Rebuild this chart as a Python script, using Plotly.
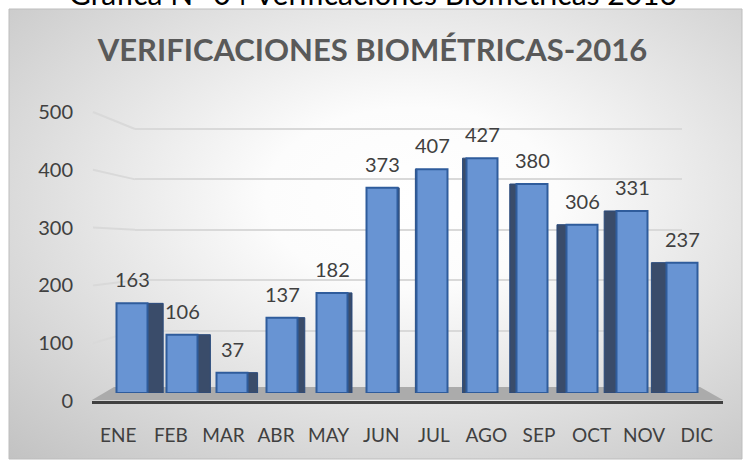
import base64
import plotly.graph_objects as go

# datos
meses = ["ENE", "FEB", "MAR", "ABR", "MAY", "JUN", "JUL", "AGO", "SEP", "OCT", "NOV", "DIC"]
verificaciones = [163, 106, 37, 137, 182, 373, 407, 427, 380, 306, 331, 237]
y_ticks = [0, 100, 200, 300, 400, 500]
titulo = "VERIFICACIONES BIOMÉTRICAS-2016"
encabezado = "Gráfica N° 04 Verificaciones Biométricas 2016"

W, H = 745, 461
FONT = "Lato, Open Sans, sans-serif"


def px(x):
    return x / W


def py(y):
    return (H - y) / H


# fake 3D: dark side face, to the right on the left half and to the left on the right half
side_w = [abs(i - 5.6) * 2.8 / 50 for i in range(len(meses))]
side_off = [0.31 if i < 5.6 else -0.31 - w for i, w in enumerate(side_w)]

fig = go.Figure()

# helper traces so the wall / label axes get drawn
fig.add_trace(go.Scatter(x=meses, y=verificaciones, mode="markers", marker=dict(opacity=0),
                         hoverinfo="skip", showlegend=False, xaxis="x", yaxis="y"))
fig.add_trace(go.Bar(x=meses, y=verificaciones, width=side_w, offset=side_off,
                     marker=dict(color="#3A4C6A", line=dict(color="#2A4A7C", width=1)),
                     hoverinfo="skip", showlegend=False, xaxis="x2", yaxis="y2"))
fig.add_trace(go.Bar(x=meses, y=verificaciones, width=0.62, offset=-0.31,
                     marker=dict(color="#6894D3", line=dict(color="#2F5C9C", width=2)),
                     showlegend=False, xaxis="x2", yaxis="y2"))
fig.add_trace(go.Scatter(x=meses, y=verificaciones, mode="markers", marker=dict(opacity=0),
                         hoverinfo="skip", showlegend=False, xaxis="x3", yaxis="y3"))

for m, v in zip(meses, verificaciones):
    fig.add_annotation(x=m, y=v, xref="x2", yref="y2", text=str(v), showarrow=False,
                       yanchor="bottom", yshift=10, font=dict(family=FONT, size=20, color="#404040"))

# background with radial gradient
bg_svg = ('<svg xmlns="http://www.w3.org/2000/svg" width="733" height="450">'
          '<defs><radialGradient id="g" cx="0.55" cy="0.42" r="0.8">'
          '<stop offset="0" stop-color="#ffffff"/><stop offset="0.25" stop-color="#fcfcfc"/>'
          '<stop offset="1" stop-color="#c2c2c2"/></radialGradient></defs>'
          '<rect width="733" height="450" fill="url(#g)"/></svg>')
bg_src = "data:image/svg+xml;base64," + base64.b64encode(bg_svg.encode()).decode()
fig.add_layout_image(source=bg_src, xref="paper", yref="paper", x=px(9), y=py(9),
                     sizex=px(742) - px(9), sizey=py(9) - py(459), xanchor="left", yanchor="top",
                     sizing="stretch", layer="below")
fig.add_shape(type="rect", xref="paper", yref="paper", x0=px(9), x1=px(742), y0=py(459), y1=py(9),
              line=dict(color="#BDBDBD", width=1), layer="below")

# floor
fig.add_shape(type="path", xref="paper", yref="paper", layer="below",
              path=f"M {px(92)},{py(400)} L {px(723)},{py(400)} L {px(700)},{py(387)} L {px(114)},{py(387)} Z",
              fillcolor="#ABABAB", line=dict(width=0))

# slanted side-wall part of the gridlines
for t in y_ticks[1:]:
    fig.add_shape(type="line", xref="paper", yref="paper",
                  x0=px(93), y0=py(401 - t * 0.578), x1=px(135), y1=py(381 - t * 0.504),
                  line=dict(color="#D9D9D9", width=2), layer="below")

fig.update_layout(
    width=W, height=H,
    margin=dict(l=0, r=0, t=0, b=0),
    paper_bgcolor="white", plot_bgcolor="rgba(0,0,0,0)",
    barmode="overlay",
    font=dict(family=FONT, color="#404040"),
    title=dict(text=f"<b>{titulo}</b>", x=0.5, xanchor="center", y=py(50), yanchor="middle",
               font=dict(family=FONT, size=31, color="#595959")),
    # back wall gridlines
    xaxis=dict(domain=[px(135), px(682)], anchor="y", visible=False, automargin=False),
    yaxis=dict(domain=[py(381), py(381 - 520 * 0.504)], anchor="x", range=[0, 520],
               tickvals=y_ticks[1:], showgrid=True, gridcolor="#D9D9D9", gridwidth=2,
               showticklabels=False, zeroline=False, ticks="", automargin=False),
    # bars
    xaxis2=dict(domain=[px(107), px(707)], anchor="y2", range=[-0.5, 11.5], visible=False,
                automargin=False),
    yaxis2=dict(domain=[py(393), py(118)], anchor="x2", range=[0, 500], visible=False,
                automargin=False),
    # labels and base line
    xaxis3=dict(domain=[px(92), px(723)], anchor="y3", range=[-0.5, 11.5], showline=True,
                linecolor="#404040", linewidth=3, showgrid=False, ticks="outside", ticklen=15,
                tickcolor="rgba(0,0,0,0)", tickfont=dict(family=FONT, size=19, color="#404040"),
                automargin=False),
    yaxis3=dict(domain=[py(401), py(112)], anchor="free", position=px(73), range=[0, 500],
                tickvals=y_ticks, showgrid=False, zeroline=False, showline=False, ticks="",
                tickfont=dict(family=FONT, size=20, color="#404040"), automargin=False),
)

fig.add_annotation(text=encabezado, xref="paper", yref="paper", x=0.5, y=py(13), xanchor="center",
                   yanchor="bottom", showarrow=False, font=dict(family=FONT, size=30, color="#000000"))

fig.write_html("out.html", config={"displayModeBar": False},
               post_script="document.body.style.margin='0';")
